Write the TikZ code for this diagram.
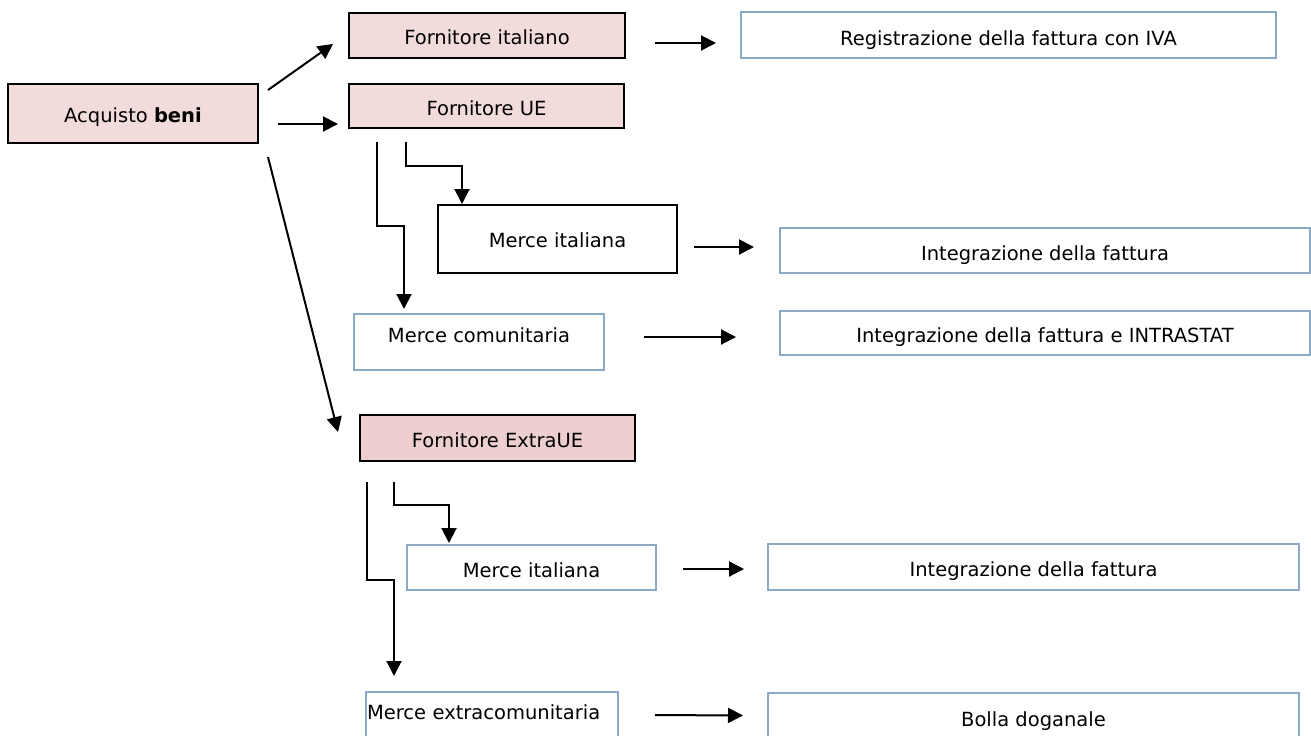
\documentclass[tikz,border=0pt]{standalone}
\usepackage{fontspec}
\setmainfont{DejaVu Sans}
\usetikzlibrary{arrows.meta,calc}
\definecolor{pinkfill}{HTML}{F2DBDB}
\definecolor{darkpinkfill}{HTML}{EDCFD0}
\definecolor{bluedraw}{HTML}{8AAAC8}
\tikzset{supplier box/.style={draw=black, fill=pinkfill, line width=0.75pt, rectangle, inner sep=0pt, outer sep=0pt, text height=9pt, text depth=0pt}}
\tikzset{goods box/.style={draw=bluedraw, line width=0.6pt, rectangle, inner sep=0pt, outer sep=0pt, text height=9.5pt, text depth=0pt}}
\tikzset{flow arrow/.style={line width=1pt, -{Triangle[length=7.5pt,width=7.5pt]}}}

\begin{document}
\begin{tikzpicture}[x=0.5pt, y=-0.5pt, font=\fontsize{9.75pt}{12pt}\selectfont]
\useasboundingbox (0,0) rectangle (1311,735);
\node[supplier box, minimum width=125pt, minimum height=29.5pt] (acq) at (133,113.5) {Acquisto \textbf{beni}};
\node[supplier box, minimum width=138pt, minimum height=22.5pt] (fit) at (487,35.5) {Fornitore italiano};
\node[supplier box, minimum width=137.5pt, minimum height=22pt] (fue) at (486.5,106) {Fornitore UE};
\node[supplier box, fill=darkpinkfill, minimum width=137.5pt, minimum height=23pt] (fext) at (497.5,438) {Fornitore ExtraUE};
\node[goods box, minimum width=267.5pt, minimum height=23pt, text height=10.5pt] (reg) at (1008.5,35) {Registrazione della fattura con IVA};
\node[goods box, draw=black, line width=0.75pt, minimum width=119.5pt, minimum height=34pt, text height=8.7pt] (mitue) at (557.5,239) {Merce italiana};
\node[goods box, minimum width=265pt, minimum height=22.5pt] (intue) at (1045,250.5) {Integrazione della fattura};
\node[goods box, minimum width=125pt, minimum height=28pt, text height=8pt, text depth=8pt] (mcom) at (479,342) {Merce comunitaria};
\node[goods box, minimum width=265pt, minimum height=22pt] (intra) at (1045,333) {Integrazione della fattura e INTRASTAT};
\node[goods box, minimum width=124.5pt, minimum height=22.5pt] (mitex) at (531.5,567.5) {Merce italiana};
\node[goods box, minimum width=265.5pt, minimum height=23pt] (intex) at (1033.5,567) {Integrazione della fattura};
\node[goods box, text width=125pt, inner xsep=0.5pt, align=left, minimum height=23pt, text height=8pt, text depth=4pt] (mext) at (492,715) {Merce extracomunitaria};
\node[goods box, minimum width=265.5pt, minimum height=22.5pt, text height=10.5pt] (bolla) at (1033.5,715.5) {Bolla doganale};
\draw[flow arrow] ($(acq.north east)+(10,6)$) -- ($(fit.west)+(-16,8.5)$);
\draw[flow arrow] ($(acq.east)+(20,10.5)$) -- ($(fue.west)+(-11,18)$);
\draw[flow arrow] ($(acq.south east)+(10,14)$) -- ($(fext.west)+(-22,-6)$);
\draw[flow arrow] ($(fit.east)+(30,7.5)$) -- ($(reg.west)+(-25,8)$);
\draw[flow arrow] ($(fue.south west)+(28,14)$) -- ++(0,84) -| ($(mcom.north west)+(50,-5)$);
\draw[flow arrow] ($(fue.south west)+(57,14)$) -- ++(0,24) -| ($(mitue.north west)+(24,-1)$);
\draw[flow arrow] ($(mitue.east)+(17,8)$) -- ($(intue.west)+(-26,-3.5)$);
\draw[flow arrow] ($(mcom.east)+(40,-5)$) -- ($(intra.west)+(-44,4)$);
\draw[flow arrow] ($(fext.south west)+(7,21)$) -- ++(0,98) -| ($(mext.north west)+(28,-16)$);
\draw[flow arrow] ($(fext.south west)+(34,21)$) -- ++(0,23) -| ($(mitex.north west)+(42,-2)$);
\draw[flow arrow] ($(mitex.east)+(27,1.5)$) -- ($(intex.west)+(-24,2)$);
\draw[flow arrow] ($(mext.east)+(37,0)$) -- ($(bolla.west)+(-25,0)$);
\end{tikzpicture}
\end{document}
